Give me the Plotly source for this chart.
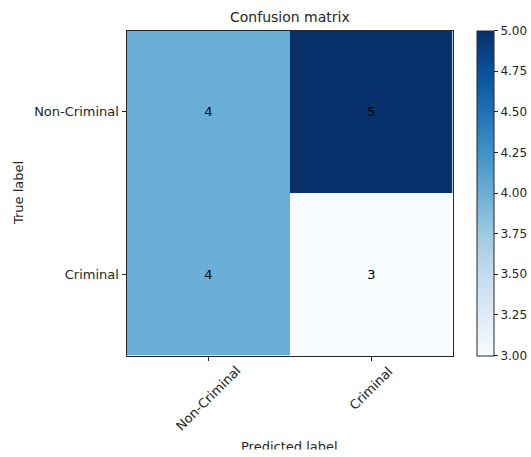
import plotly.graph_objects as go

# Confusion matrix counts (rows = true label, cols = predicted label)
classes = ["Non-Criminal", "Criminal"]
counts = [[4, 5],
          [4, 3]]
cbar_ticks = [3.00, 3.25, 3.50, 3.75, 4.00, 4.25, 4.50, 4.75, 5.00]

W, H = 531, 457
# plot frame in pixels
L, R, T, B = 126.5, 452.5, 30.5, 355.5


def px(x):
    return x / W


def py(y):
    return 1 - y / H


blues = [
    [0.000, "#f7fbff"], [0.125, "#deebf7"], [0.250, "#c6dbef"],
    [0.375, "#9ecae1"], [0.500, "#6baed6"], [0.625, "#4292c6"],
    [0.750, "#2171b5"], [0.875, "#08519c"], [1.000, "#08306b"],
]

font = "DejaVu Sans"
ink = "#262626"

fig = go.Figure(go.Heatmap(
    z=counts, x=classes, y=classes,
    colorscale=blues, zmin=3, zmax=5,
    text=[[str(v) for v in row] for row in counts],
    texttemplate="%{text}",
    textfont=dict(family=font, size=13, color="black"),
    hoverinfo="skip",
    colorbar=dict(
        x=px(476.7), xanchor="left", xpad=0,
        y=py((T + B) / 2), yanchor="middle", ypad=0,
        len=(B - T) / H, lenmode="fraction",
        thickness=17, thicknessmode="pixels",
        outlinewidth=1, outlinecolor=ink,
        tickvals=cbar_ticks, ticktext=[f"{v:.2f}" for v in cbar_ticks],
        ticks="outside", ticklen=4, tickcolor=ink, tickwidth=1,
        tickfont=dict(family=font, size=12, color=ink),
    ),
))

axis_common = dict(
    showgrid=False, zeroline=False, showline=True, mirror=True,
    linecolor=ink, linewidth=1, ticks="outside", ticklen=4, tickcolor=ink,
    tickfont=dict(family=font, size=13, color=ink),
)

# rotated x tick labels, centred under their ticks
xlabel_centres = [(207.5, 398.5), (369.5, 388.5)]
xlabels = [
    dict(text=c, xref="x", yref="paper", x=c, y=py(cy),
         xanchor="center", yanchor="middle", textangle=-45, showarrow=False,
         font=dict(family=font, size=13, color=ink))
    for c, (cx, cy) in zip(classes, xlabel_centres)
]

fig.update_layout(
    width=W, height=H,
    margin=dict(l=0, r=0, t=0, b=0, pad=0),
    paper_bgcolor="white", plot_bgcolor="white",
    font=dict(family=font, color=ink),
    showlegend=False,
    xaxis=dict(domain=[px(L), px(R)], showticklabels=False, **axis_common),
    yaxis=dict(domain=[py(B), py(T)], autorange="reversed", **axis_common),
    annotations=xlabels + [
        dict(text="Confusion matrix", xref="paper", yref="paper",
             x=px((L + R) / 2), y=py(17), xanchor="center", yanchor="middle",
             showarrow=False, font=dict(family=font, size=14, color=ink)),
        dict(text="True label", xref="paper", yref="paper",
             x=px(18), y=py((T + B) / 2), xanchor="center", yanchor="middle",
             textangle=-90, showarrow=False,
             font=dict(family=font, size=13, color=ink)),
        dict(text="Predicted label", xref="paper", yref="paper",
             x=px((L + R) / 2), y=py(446), xanchor="center", yanchor="middle",
             showarrow=False, font=dict(family=font, size=13, color=ink)),
        # the figure ends just below the axis label's baseline
        dict(text=" ", xref="paper", yref="paper",
             x=px((L + R) / 2), y=py(449), xanchor="center", yanchor="top",
             width=200, height=10, bgcolor="white", borderpad=0,
             showarrow=False),
    ],
)

fig.write_html("out.html")
